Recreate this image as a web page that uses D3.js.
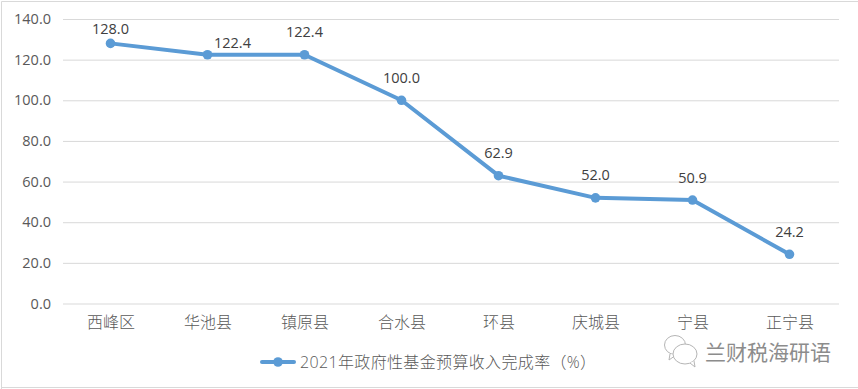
<!DOCTYPE html>
<html lang="zh">
<head>
<meta charset="UTF-8">
<title>2021年政府性基金预算收入完成率</title>
<script src="https://d3js.org/d3.v7.min.js"></script>
<style>
html, body { margin: 0; padding: 0; background: white; }
svg { display: block; font-family: "Liberation Sans", "Noto Sans CJK SC", sans-serif; }
.y-axis text { font-family: "Open Sans", "Noto Sans CJK SC", sans-serif; font-size: 14.5px; fill: #595959; }
.x-axis text { font-family: "Noto Sans CJK SC", sans-serif; font-size: 16px; font-weight: 300; fill: #595959; }
.y-axis path, .x-axis path, .x-axis line { display: none; }
.y-axis line { stroke: #d9d9d9; stroke-width: 1; }
.value-label { font-family: "Open Sans", sans-serif; font-size: 14.5px; fill: #404040; text-anchor: middle; }
</style>
</head>
<body>
<div id="chart"></div>
<script>

// data
const counties = ["西峰区", "华池县", "镇原县", "合水县", "环县", "庆城县", "宁县", "正宁县"];
const rates = [128.0, 122.4, 122.4, 100.0, 62.9, 52.0, 50.9, 24.2];
const yTicks = [0, 20, 40, 60, 80, 100, 120, 140];
const seriesName = "2021年政府性基金预算收入完成率（%）";
const watermark = "兰财税海研语";

let totalWidth = 858;
let totalHeight = 389;
let margin = {top: 19, right: 19, bottom: 85.5, left: 63};
let blue = "#5b9bd5";

let svg = d3.select("#chart")
  .append("svg")
  .attr("width", totalWidth)
  .attr("height", totalHeight);

// outer frame of the pasted chart
svg.append("path")
  .attr("d", `M1.5,${totalHeight} V1.5 H${totalWidth} M1.5,387.5 H${totalWidth}`)
  .attr("fill", "none")
  .attr("stroke", "#d9d9d9");

// scales
let x = d3.scalePoint()
  .domain(counties)
  .range([margin.left - 1, totalWidth - margin.right - 1])
  .padding(0.5);

let y = d3.scaleLinear()
  .domain([0, 140])
  .range([totalHeight - margin.bottom, margin.top]);

// axes
svg.append("g")
  .attr("class", "y-axis")
  .attr("transform", `translate(${margin.left}, 0)`)
  .call(d3.axisLeft(y)
    .tickValues(yTicks)
    .tickFormat(d3.format(".1f"))
    .tickSize(-(totalWidth - margin.left - margin.right))
    .tickPadding(12));

svg.append("g")
  .attr("class", "x-axis")
  .attr("transform", `translate(0, ${totalHeight - margin.bottom})`)
  .call(d3.axisBottom(x).tickSize(0).tickPadding(13));

// line and points
let line = d3.line()
  .x((d, i) => x(counties[i]))
  .y(d => y(d));

svg.append("path")
  .datum(rates)
  .attr("d", line)
  .attr("fill", "none")
  .attr("stroke", blue)
  .attr("stroke-width", 4)
  .attr("stroke-linejoin", "round");

svg.selectAll(".point")
  .data(rates)
  .join("circle")
  .attr("class", "point")
  .attr("cx", (d, i) => x(counties[i]))
  .attr("cy", d => y(d))
  .attr("r", 4.8)
  .attr("fill", blue);

// first two labels were moved by hand in the original
svg.selectAll(".value-label")
  .data(rates)
  .join("text")
  .attr("class", "value-label")
  .attr("x", (d, i) => x(counties[i]) + (i == 1 ? 25 : 0))
  .attr("y", (d, i) => y(d) + (i == 0 ? -9.5 : i == 1 ? -6.5 : -17.5))
  .text(d => d.toFixed(1));

// legend
let legend = svg.append("g")
  .attr("transform", "translate(260, 362)");

legend.append("line")
  .attr("x1", 2).attr("x2", 34)
  .attr("stroke", blue)
  .attr("stroke-width", 4)
  .attr("stroke-linecap", "round");

legend.append("circle")
  .attr("cx", 18)
  .attr("r", 4.8)
  .attr("fill", blue);

legend.append("text")
  .attr("x", 40)
  .attr("y", 5.5)
  .attr("font-family", "'Open Sans', 'Noto Sans CJK SC', sans-serif")
  .attr("font-size", 16)
  .attr("font-weight", 300)
  .attr("letter-spacing", 0.35)
  .attr("fill", "#595959")
  .text(seriesName);

// wechat style watermark
let mark = svg.append("g")
  .attr("fill", "white")
  .attr("stroke", "#b5b5b5")
  .attr("stroke-width", 1);

mark.append("ellipse").attr("cx", 675).attr("cy", 345).attr("rx", 10.5).attr("ry", 9.5);
mark.append("path").attr("d", "M670,354 L669,360 L676,355");
mark.append("ellipse").attr("cx", 685).attr("cy", 354).attr("rx", 12).attr("ry", 10);
mark.append("path").attr("d", "M690,363 L695,367 L694,361");

svg.append("text")
  .attr("x", 705)
  .attr("y", 360)
  .attr("font-family", "'Noto Sans CJK SC', sans-serif")
  .attr("font-size", 21)
  .attr("fill", "#8c8c8c")
  .text(watermark);

</script>
</body>
</html>
